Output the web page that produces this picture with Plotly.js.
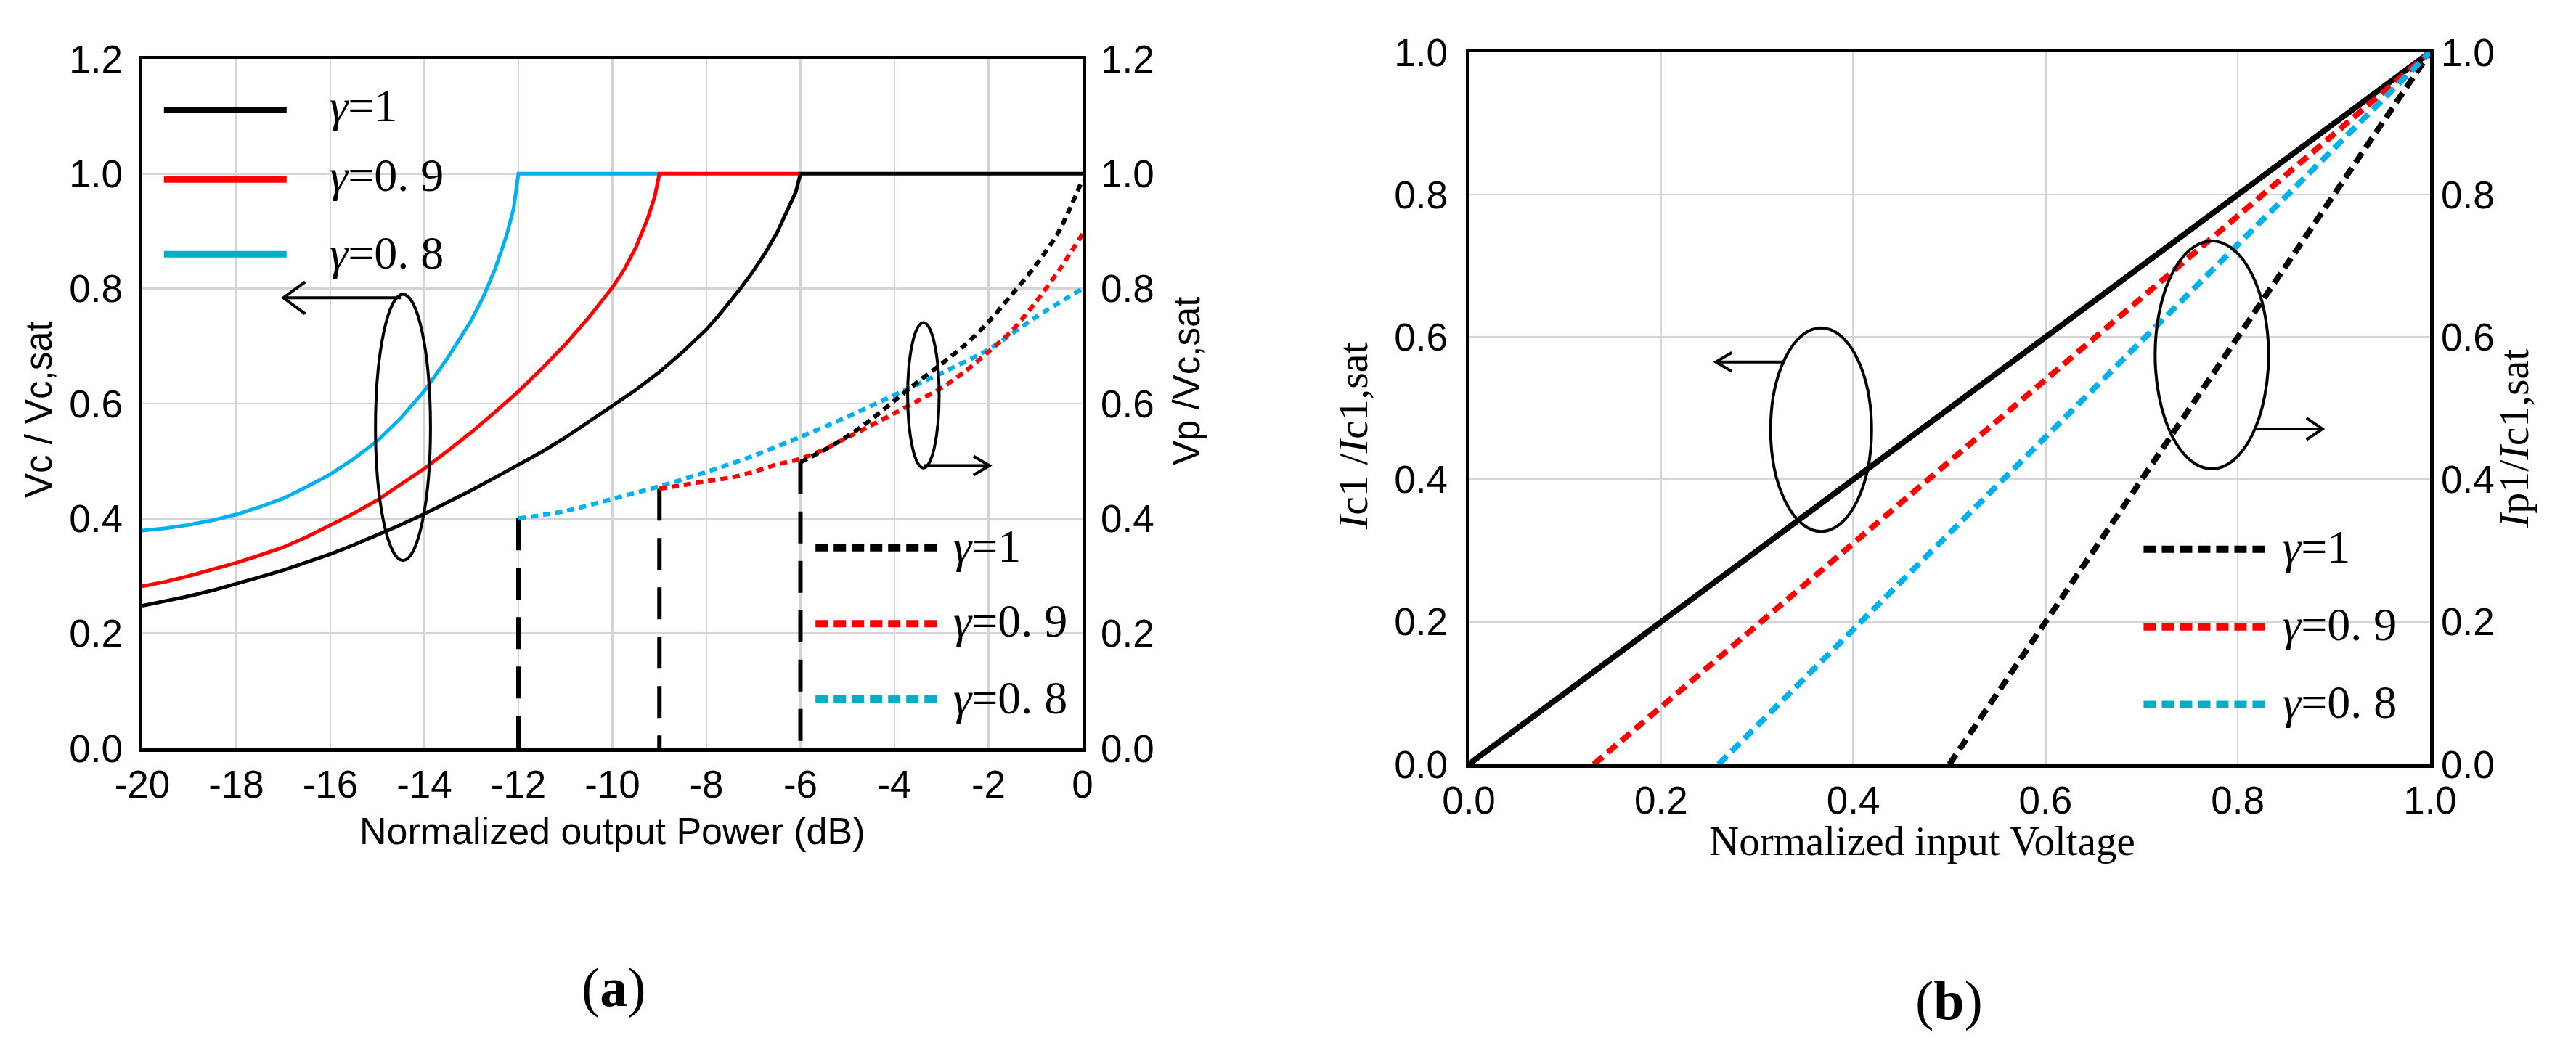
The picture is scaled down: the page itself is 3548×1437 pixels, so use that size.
<!DOCTYPE html>
<html>
<head>
<meta charset="utf-8">
<script src="https://cdn.plot.ly/plotly-3.0.1.min.js"></script>
<style>html,body{margin:0;padding:0;background:#fff;}#chart{width:3548px;height:1437px;}</style>
</head>
<body>
<div id="chart"></div>
<script>
// ================= DATA =================
// ---- panel (a): normalized output power (dB) ----
const powerTicks = [-20, -18, -16, -14, -12, -10, -8, -6, -4, -2, 0];
const powerTickText = ["-20", "-18", "-16", "-14", "-12", "-10", "-8", "-6", "-4", "-2", "0"];
const vTicks = [0, 0.2, 0.4, 0.6, 0.8, 1.0, 1.2];
const vTickText = ["0.0", "0.2", "0.4", "0.6", "0.8", "1.0", "1.2"];

// carrier voltage Vc/Vc,sat (left axis, solid)
const vcG10x = [-20, -19.5, -19, -18.5, -18, -17.5, -17, -16.5, -16, -15.5, -15, -14.5, -14, -13.5, -13, -12.5, -12, -11.5, -11, -10.5, -10, -9.5, -9, -8.5, -8, -7.75, -7.5, -7.25, -7, -6.75, -6.5, -6.25, -6.1, -6, -3, 0];
const vcG10y = [0.248, 0.256, 0.265, 0.275, 0.286, 0.298, 0.31, 0.324, 0.338, 0.354, 0.371, 0.389, 0.408, 0.428, 0.449, 0.471, 0.493, 0.516, 0.541, 0.568, 0.596, 0.624, 0.655, 0.69, 0.729, 0.752, 0.777, 0.803, 0.831, 0.862, 0.897, 0.94, 0.968, 1.0, 1.0, 1.0];
const vcG09x = [-20, -19.5, -19, -18.5, -18, -17.5, -17, -16.5, -16, -15.5, -15, -14.5, -14, -13.5, -13, -12.5, -12, -11.5, -11, -10.5, -10, -9.75, -9.5, -9.25, -9.1, -9, -7.5, -6];
const vcG09y = [0.282, 0.29, 0.3, 0.311, 0.323, 0.336, 0.35, 0.368, 0.388, 0.409, 0.432, 0.459, 0.487, 0.518, 0.55, 0.585, 0.621, 0.661, 0.703, 0.75, 0.802, 0.833, 0.872, 0.922, 0.96, 1.0, 1.0, 1.0];
const vcG08x = [-20, -19.5, -19, -18.5, -18, -17.5, -17, -16.5, -16, -15.5, -15, -14.5, -14, -13.5, -13, -12.75, -12.5, -12.25, -12.1, -12, -10.5, -9];
const vcG08y = [0.379, 0.383, 0.389, 0.397, 0.407, 0.42, 0.435, 0.455, 0.477, 0.504, 0.535, 0.575, 0.622, 0.68, 0.745, 0.785, 0.833, 0.893, 0.94, 1.0, 1.0, 1.0];

// peaking voltage Vp/Vc,sat (right axis, dotted)
const vpG10x = [-6, -5.5, -5, -4.5, -4, -3.5, -3, -2.5, -2, -1.5, -1, -0.5, 0];
const vpG10y = [0.498, 0.519, 0.543, 0.572, 0.605, 0.638, 0.669, 0.702, 0.742, 0.79, 0.84, 0.9, 0.99];
const vpG09x = [-9, -8.5, -8, -7.5, -7, -6.5, -6, -5.5, -5, -4.5, -4, -3.5, -3, -2.5, -2, -1.5, -1, -0.5, 0];
const vpG09y = [0.452, 0.458, 0.465, 0.471, 0.481, 0.494, 0.504, 0.52, 0.541, 0.562, 0.583, 0.605, 0.627, 0.656, 0.69, 0.727, 0.776, 0.832, 0.895];
const vpG08x = [-12, -11, -10, -9, -8, -7, -6, -5, -4, -3, -2, -1, 0];
const vpG08y = [0.4, 0.413, 0.434, 0.456, 0.481, 0.509, 0.542, 0.577, 0.615, 0.653, 0.694, 0.75, 0.8];

// peaking turn-on markers (vertical dashed lines)
const turnOnX = [-12, -9, -6];
const turnOnTop = [0.4, 0.452, 0.498];

// ---- panel (b): normalized input voltage ----
const inTicks = [0, 0.2, 0.4, 0.6, 0.8, 1.0];
const inTickText = ["0.0", "0.2", "0.4", "0.6", "0.8", "1.0"];
const ic1x = [0, 0.2, 0.4, 0.6, 0.8, 1.0];
const ic1y = [0, 0.2, 0.4, 0.6, 0.8, 1.0];
const ipG10x = [0.5, 0.6, 0.8, 1.0];
const ipG10y = [0, 0.2, 0.6, 1.0];
const ipG09x = [0.13, 0.4, 0.6, 0.8, 1.0];
const ipG09y = [0, 0.31, 0.54, 0.77, 1.0];
const ipG08x = [0.26, 0.4, 0.6, 0.8, 1.0];
const ipG08y = [0, 0.19, 0.46, 0.73, 1.0];

// ---- text ----
const gammaLabels = ["<i>γ</i>=1", "<i>γ</i>=0. 9", "<i>γ</i>=0. 8"];
const titleA_x = "Normalized output Power (dB)";
const titleA_yl = "Vc / Vc,sat";
const titleA_yr = "Vp /Vc,sat";
const titleB_x = "Normalized input Voltage";
const titleB_yl = "<i>I</i>c1 /<i>I</i>c1,sat";
const titleB_yr = "<i>I</i>p1/<i>I</i>c1,sat";
const panelLabels = ["(<b>a</b>)", "(<b>b</b>)"];

// ================= STYLE / LAYOUT =================
const W = 3548, H = 1437;
const BLACK = "#000000", RED = "#ff0000", CYAN = "#00b0f0", CYAN_LEG = "#00aec6";
const SANS = "Liberation Sans, Arial, sans-serif";
const SERIF = "Liberation Serif, Times New Roman, serif";
const px = (v) => v / W, py = (v) => (H - v) / H;

const A = {l: 196, r: 1491, t: 81, b: 1031};
const B = {l: 2023, r: 3347, t: 72, b: 1053};

const tickFont = {family: SANS, size: 53, color: BLACK};
const gridCol = "#d4d4d4";

function line(x, y, color, width, dash, xa, ya, clip, shape) {
  return {type: "scatter", mode: "lines", x: x, y: y, xaxis: xa, yaxis: ya,
    line: {color: color, width: width, dash: dash || "solid", shape: shape || "linear", smoothing: 0.8},
    cliponaxis: clip === undefined ? true : clip, showlegend: false, hoverinfo: "skip"};
}

const traces = [];
// panel (a)
turnOnX.forEach((x, i) => traces.push(line([x, x], [turnOnTop[i], 0], BLACK, 6, "44px,24px", "x", "y")));
traces.push(line(vcG08x, vcG08y, CYAN, 5, "solid", "x", "y"));
traces.push(line(vcG09x, vcG09y, RED, 5, "solid", "x", "y"));
traces.push(line(vcG10x, vcG10y, BLACK, 5, "solid", "x", "y", false));
traces.push(line(vpG08x, vpG08y, CYAN, 6, "10px,7px", "x", "y2", false, "spline"));
traces.push(line(vpG09x, vpG09y, RED, 6, "10px,7px", "x", "y2", false, "spline"));
traces.push(line(vpG10x, vpG10y, BLACK, 6, "10px,7px", "x", "y2", false, "spline"));
// panel (b)
traces.push(line(ic1x, ic1y, BLACK, 8, "solid", "x2", "y3", false));
traces.push(line(ipG10x, ipG10y, BLACK, 8, "16px,9px", "x2", "y4", false));
traces.push(line(ipG09x, ipG09y, RED, 8, "16px,9px", "x2", "y4", false));
traces.push(line(ipG08x, ipG08y, CYAN, 8, "16px,9px", "x2", "y4", false));

const common = {tickfont: tickFont, ticks: "", showgrid: true, gridcolor: gridCol, gridwidth: 2.5,
  zeroline: false, fixedrange: true};

const layout = {
  width: W, height: H, margin: {l: 0, r: 0, t: 0, b: 0},
  paper_bgcolor: "#ffffff", plot_bgcolor: "#ffffff", showlegend: false,
  xaxis: Object.assign({}, common, {domain: [px(A.l), px(A.r)], range: [-20, 0], tickmode: "array",
    tickvals: powerTicks, ticktext: powerTickText, anchor: "y", showline: true, mirror: true,
    linecolor: BLACK, linewidth: 4.5, ticklabelstandoff: 0}),
  yaxis: Object.assign({}, common, {domain: [py(A.b), py(A.t)], range: [0, 1.2], tickmode: "array",
    tickvals: vTicks, ticktext: vTickText, anchor: "x", showline: true, mirror: true,
    linecolor: BLACK, linewidth: 4.5, ticklabelstandoff: 12}),
  yaxis2: Object.assign({}, common, {range: [0, 1.2], overlaying: "y", side: "right", anchor: "x",
    tickmode: "array", tickvals: vTicks, ticktext: vTickText, showgrid: false, showline: false,
    ticklabelstandoff: 24}),
  xaxis2: Object.assign({}, common, {domain: [px(B.l), px(B.r)], range: [0, 1], tickmode: "array",
    tickvals: inTicks, ticktext: inTickText, anchor: "y3", showline: true, mirror: true,
    linecolor: BLACK, linewidth: 4.5, ticklabelstandoff: 0}),
  yaxis3: Object.assign({}, common, {domain: [py(B.b), py(B.t)], range: [0, 1], tickmode: "array",
    tickvals: inTicks, ticktext: inTickText, anchor: "x2", showline: true, mirror: true,
    linecolor: BLACK, linewidth: 4.5, ticklabelstandoff: 14}),
  yaxis4: Object.assign({}, common, {range: [0, 1], overlaying: "y3", side: "right", anchor: "x2",
    tickmode: "array", tickvals: inTicks, ticktext: inTickText, showgrid: false, showline: false,
    ticklabelstandoff: 14}),
  shapes: [], annotations: []
};

// ---- legends (drawn inside the plots) ----
const legA1 = {x0: -19.54, x1: -16.93, ys: [1.111, 0.99, 0.86], tx: -16.05, tys: [1.118, 0.997, 0.862]};
const legA2 = {x0: -5.68, x1: -3.06, ys: [0.349, 0.217, 0.086], tx: -2.78, tys: [0.352, 0.222, 0.088]};
const legB = {x0: 0.702, x1: 0.831, ys: [0.302, 0.193, 0.084], tx: 0.845, tys: [0.305, 0.196, 0.087]};
const legCols = [BLACK, RED, CYAN_LEG];
function addLegend(L, xr, yr, dash, w) {
  gammaLabels.forEach((lab, i) => {
    layout.shapes.push({type: "line", xref: xr, yref: yr, x0: L.x0, x1: L.x1, y0: L.ys[i], y1: L.ys[i],
      line: {color: legCols[i], width: w, dash: dash}});
    layout.annotations.push({xref: xr, yref: yr, x: L.tx, y: L.tys[i], xanchor: "left", yanchor: "middle",
      text: lab, showarrow: false, font: {family: SERIF, size: 64, color: BLACK}});
  });
}
addLegend(legA1, "x", "y", "solid", 9);
addLegend(legA2, "x", "y", "17px,8px", 10);
addLegend(legB, "x2", "y3", "17px,8px", 10);

// ---- ellipses with arrows ----
function ellipse(xr, yr, x0, x1, y0, y1) {
  layout.shapes.push({type: "circle", xref: xr, yref: yr, x0: x0, x1: x1, y0: y0, y1: y1,
    line: {color: BLACK, width: 4}, fillcolor: "rgba(0,0,0,0)"});
}
function arrow(xr, yr, xs, xe, y, back, half) {
  layout.shapes.push({type: "line", xref: xr, yref: yr, x0: xs, x1: xe, y0: y, y1: y, line: {color: BLACK, width: 4}});
  const s = xe < xs ? back : -back;
  layout.shapes.push({type: "path", xref: xr, yref: yr, xsizemode: "pixel", ysizemode: "pixel",
    xanchor: xe, yanchor: y, path: `M ${s} ${half} L 0 0 L ${s} ${-half}`, line: {color: BLACK, width: 4}});
}
ellipse("x", "y", -15.04, -13.87, 0.327, 0.79);
arrow("x", "y", -14.5, -17.0, 0.784, 30, 22);
ellipse("x", "y", -3.72, -3.05, 0.488, 0.741);
arrow("x", "y", -3.38, -1.98, 0.492, 22, 13);
ellipse("x2", "y3", 0.314, 0.419, 0.327, 0.613);
arrow("x2", "y3", 0.328, 0.257, 0.565, 22, 13);
ellipse("x2", "y3", 0.714, 0.832, 0.415, 0.735);
arrow("x2", "y3", 0.818, 0.888, 0.471, 22, 15);

// ---- axis titles and panel labels ----
function ptext(text, x, y, font, angle) {
  layout.annotations.push({xref: "paper", yref: "paper", x: px(x), y: py(y), xanchor: "center", yanchor: "middle",
    text: text, showarrow: false, font: font, textangle: angle || 0});
}
ptext(titleA_x, 843, 1145, {family: SANS, size: 52, color: BLACK});
ptext(titleA_yl, 53, 564, {family: SANS, size: 51, color: BLACK}, -90);
ptext(titleA_yr, 1634, 525, {family: SANS, size: 51, color: BLACK}, -90);
ptext(titleB_x, 2647, 1158, {family: SERIF, size: 57, color: BLACK});
ptext(titleB_yl, 1864, 601, {family: SERIF, size: 58, color: BLACK}, -90);
ptext(titleB_yr, 3462, 605, {family: SERIF, size: 58, color: BLACK}, -90);
ptext(panelLabels[0], 845, 1360, {family: SERIF, size: 76, color: BLACK});
ptext(panelLabels[1], 2684, 1378, {family: SERIF, size: 76, color: BLACK});

Plotly.newPlot("chart", traces, layout, {staticPlot: true, displayModeBar: false});
</script>
</body>
</html>
